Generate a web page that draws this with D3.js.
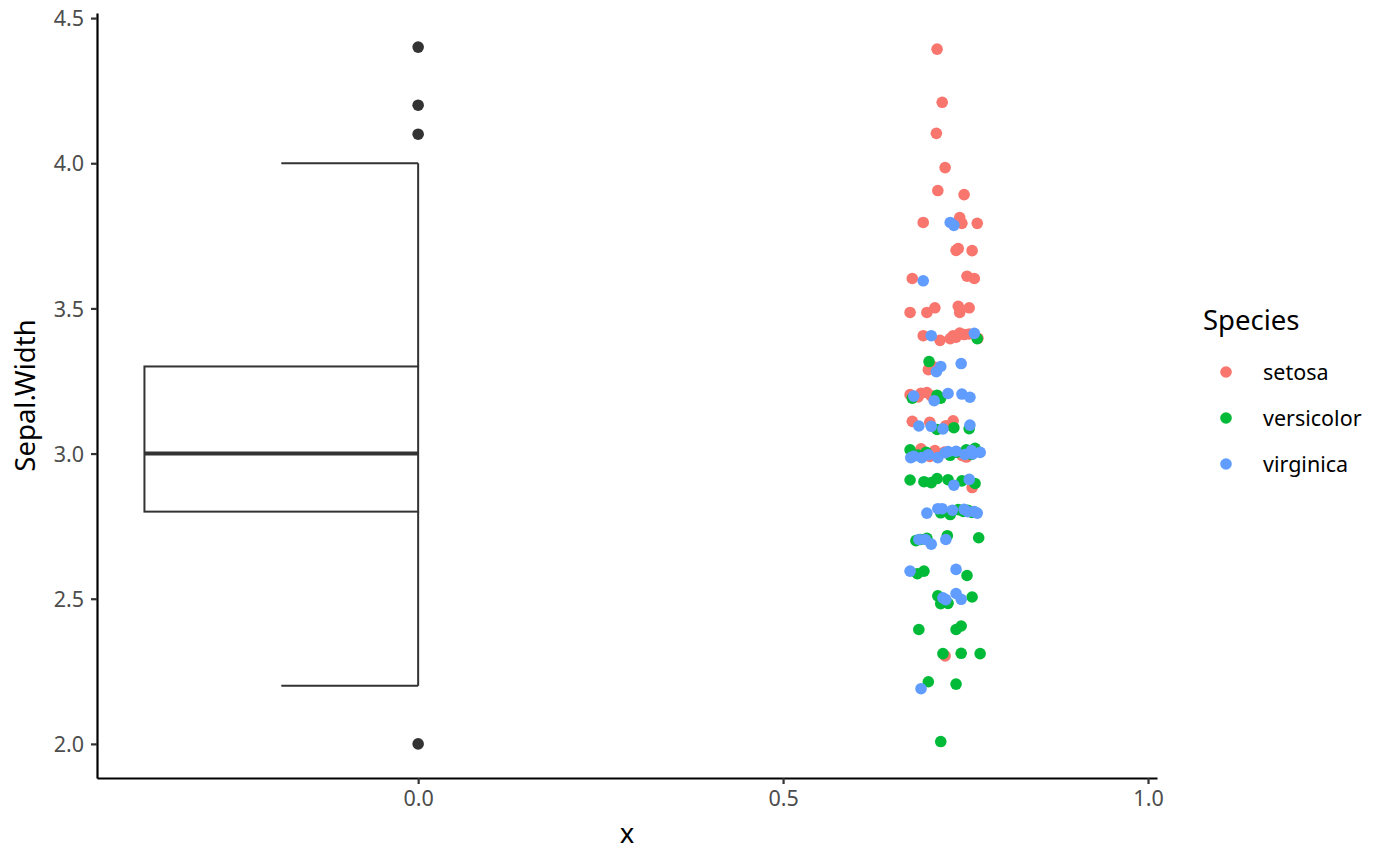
<!DOCTYPE html>
<html>
<head>
<meta charset="utf-8">
<script src="https://cdn.jsdelivr.net/npm/d3@7"></script>
<style>
  body { margin: 0; background: #fff; }
  text { font-family: "Noto Sans", "Open Sans", sans-serif; }
</style>
</head>
<body>
<div id="chart"></div>
<script>
// box summary of Sepal.Width: whisker low, q1, median, q3, whisker high
const boxStats = [2.2, 2.8, 3.0, 3.3, 4.0];
const outliers = [4.4, 4.2, 4.1, 2.0];

const species = ["setosa", "versicolor", "virginica"];
const colors = ["#F8766D", "#00BA38", "#619CFF"];

// jittered points: [x, Sepal.Width]
const setosaPts = [
  [0.711, 4.393], [0.718, 4.210], [0.710, 4.103], [0.722, 3.985],
  [0.712, 3.906], [0.748, 3.892],
  [0.692, 3.796], [0.742, 3.813], [0.745, 3.793], [0.766, 3.793],
  [0.737, 3.700], [0.740, 3.706], [0.759, 3.699],
  [0.677, 3.603], [0.752, 3.611], [0.762, 3.603],
  [0.674, 3.486], [0.697, 3.486], [0.708, 3.502], [0.740, 3.507], [0.742, 3.486], [0.755, 3.502],
  [0.692, 3.406], [0.715, 3.390], [0.729, 3.396], [0.733, 3.406], [0.737, 3.401],
  [0.742, 3.415], [0.748, 3.410], [0.755, 3.412], [0.767, 3.397],
  [0.699, 3.289], [0.707, 3.298],
  [0.674, 3.203], [0.685, 3.195], [0.689, 3.208], [0.697, 3.210], [0.703, 3.199],
  [0.677, 3.111], [0.701, 3.108], [0.723, 3.096], [0.733, 3.113],
  [0.689, 3.016], [0.701, 2.990], [0.708, 3.010], [0.721, 3.005], [0.745, 2.994], [0.751, 2.988],
  [0.759, 2.883], [0.722, 2.303]
];
const versicolorPts = [
  [0.766, 3.396], [0.700, 3.317],
  [0.677, 3.191], [0.711, 3.201], [0.716, 3.191],
  [0.711, 3.083], [0.734, 3.089], [0.755, 3.086],
  [0.674, 3.013], [0.685, 2.995], [0.696, 3.004], [0.729, 2.994],
  [0.738, 3.005], [0.751, 3.013], [0.758, 2.997], [0.763, 3.018],
  [0.674, 2.909], [0.693, 2.903], [0.703, 2.900], [0.711, 2.914], [0.726, 2.910], [0.745, 2.906], [0.763, 2.897],
  [0.716, 2.796], [0.729, 2.790], [0.740, 2.807], [0.747, 2.801], [0.753, 2.805], [0.759, 2.797],
  [0.682, 2.700], [0.688, 2.704], [0.697, 2.708], [0.725, 2.717], [0.768, 2.710],
  [0.684, 2.586], [0.693, 2.595], [0.752, 2.580],
  [0.712, 2.510], [0.716, 2.483], [0.726, 2.484], [0.759, 2.506],
  [0.686, 2.394], [0.737, 2.394], [0.744, 2.406],
  [0.719, 2.311], [0.744, 2.312], [0.770, 2.311],
  [0.699, 2.214], [0.737, 2.206], [0.716, 2.008]
];
const virginicaPts = [
  [0.729, 3.796], [0.734, 3.786], [0.692, 3.595],
  [0.703, 3.406], [0.762, 3.414],
  [0.710, 3.282], [0.716, 3.300], [0.744, 3.310],
  [0.679, 3.198], [0.707, 3.182], [0.726, 3.207], [0.745, 3.205], [0.756, 3.194],
  [0.686, 3.095], [0.703, 3.094], [0.719, 3.085], [0.756, 3.098],
  [0.675, 2.986], [0.679, 2.991], [0.690, 2.986], [0.699, 2.996], [0.712, 2.986], [0.722, 3.003],
  [0.726, 3.007], [0.737, 3.008], [0.749, 2.997], [0.758, 3.010], [0.760, 2.999], [0.770, 3.004],
  [0.734, 2.891], [0.755, 2.911],
  [0.697, 2.795], [0.712, 2.810], [0.718, 2.810], [0.732, 2.805],
  [0.748, 2.808], [0.753, 2.800], [0.762, 2.800], [0.766, 2.795],
  [0.686, 2.704], [0.695, 2.704], [0.703, 2.688], [0.723, 2.704],
  [0.674, 2.595], [0.737, 2.601],
  [0.719, 2.503], [0.723, 2.497], [0.737, 2.518], [0.744, 2.498],
  [0.689, 2.190]
];
const speciesPts = [setosaPts, versicolorPts, virginicaPts];

const yTicks = [2.0, 2.5, 3.0, 3.5, 4.0, 4.5];
const xTicks = [0.0, 0.5, 1.0];

const W = 1400, H = 866;
const margin = {left: 97, right: 1157, top: 13, bottom: 778};

const x = d3.scaleLinear().domain([-0.44, 1.0123]).range([margin.left, margin.right]);
const y = d3.scaleLinear().domain([1.8825, 4.5175]).range([margin.bottom, margin.top]);

const svg = d3.select("#chart").append("svg")
    .attr("width", W)
    .attr("height", H);

// boxplot (half box to the left of x = 0)
const ink = "#333333";
const g = svg.append("g");
g.append("rect")
    .attr("x", x(-0.375))
    .attr("y", y(boxStats[3]))
    .attr("width", x(0) - x(-0.375))
    .attr("height", y(boxStats[1]) - y(boxStats[3]))
    .attr("fill", "white")
    .attr("stroke", ink)
    .attr("stroke-width", 2);
g.append("line")
    .attr("x1", x(-0.375)).attr("x2", x(0))
    .attr("y1", y(boxStats[2])).attr("y2", y(boxStats[2]))
    .attr("stroke", ink).attr("stroke-width", 4);
// whiskers + caps
[[boxStats[3], boxStats[4]], [boxStats[1], boxStats[0]]].forEach(([a, b]) => {
    g.append("line")
        .attr("x1", x(0)).attr("x2", x(0))
        .attr("y1", y(a)).attr("y2", y(b))
        .attr("stroke", ink).attr("stroke-width", 2);
    g.append("line")
        .attr("x1", x(-0.1875)).attr("x2", x(0))
        .attr("y1", y(b)).attr("y2", y(b))
        .attr("stroke", ink).attr("stroke-width", 2);
});
g.selectAll("circle.out")
    .data(outliers)
    .join("circle")
    .attr("class", "out")
    .attr("cx", x(0))
    .attr("cy", d => y(d))
    .attr("r", 5.8)
    .attr("fill", ink);

// jittered points, drawn in species order
speciesPts.forEach((pts, i) => {
    svg.append("g").selectAll("circle")
        .data(pts)
        .join("circle")
        .attr("cx", d => x(d[0]))
        .attr("cy", d => y(d[1]))
        .attr("r", 5.8)
        .attr("fill", colors[i]);
});

// axes
const yAxis = svg.append("g")
    .attr("transform", `translate(${margin.left},0)`)
    .call(d3.axisLeft(y).tickValues(yTicks).tickFormat(d3.format(".1f")).tickSize(6).tickSizeOuter(0));
const xAxis = svg.append("g")
    .attr("transform", `translate(0,${margin.bottom})`)
    .call(d3.axisBottom(x).tickValues(xTicks).tickFormat(d3.format(".1f")).tickSize(6).tickSizeOuter(0));

[yAxis, xAxis].forEach(ax => {
    ax.select(".domain").attr("stroke", "black").attr("stroke-width", 2.2);
    ax.selectAll(".tick line").attr("stroke", ink).attr("stroke-width", 2.2);
    ax.selectAll(".tick text")
        .attr("fill", "#4D4D4D")
        .style("font-size", "21.5px")
        .style("font-family", "'Noto Sans', sans-serif");
});
yAxis.selectAll(".tick text").attr("x", -13).attr("dy", "0.36em");
xAxis.selectAll(".tick text").attr("y", 13);

// axis titles
svg.append("text")
    .attr("x", (margin.left + margin.right) / 2)
    .attr("y", 843)
    .attr("text-anchor", "middle")
    .style("font-size", "27.5px")
    .text("x");
svg.append("text")
    .attr("transform", `translate(35,${(margin.top + margin.bottom) / 2}) rotate(-90)`)
    .attr("text-anchor", "middle")
    .style("font-size", "27.5px")
    .text("Sepal.Width");

// legend
const leg = svg.append("g").attr("transform", "translate(1203,0)");
leg.append("text")
    .attr("x", 0).attr("y", 330)
    .style("font-size", "27.5px")
    .text("Species");
species.forEach((s, i) => {
    const cy = 372 + i * 46;
    leg.append("circle")
        .attr("cx", 23).attr("cy", cy).attr("r", 5.8)
        .attr("fill", colors[i]);
    leg.append("text")
        .attr("x", 60).attr("y", cy).attr("dy", "0.36em")
        .style("font-size", "21.5px")
        .text(s);
});
</script>
</body>
</html>
